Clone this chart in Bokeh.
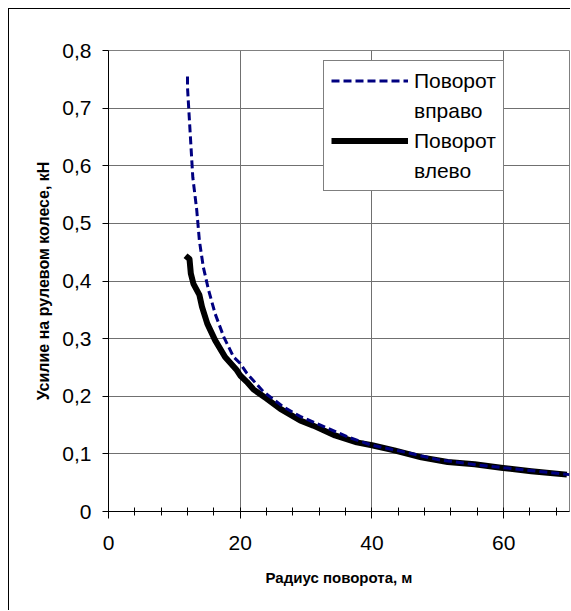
from bokeh.plotting import figure
from bokeh.models import Range1d, FixedTicker, CustomJSTickFormatter, Legend, LegendItem
from bokeh.embed import file_html
from bokeh.resources import INLINE

# ---- data ----
right_x = [12.0, 12.0, 12.2, 12.5, 12.8, 13.4, 13.8, 14.4, 15.2, 16.2, 17.5, 19.0, 20.0, 21.0,
           23.5, 26.5, 29.1, 33.4, 36.4, 40.0, 45.0, 50.0, 55.9, 60.0, 63.4, 70.0]
right_y = [0.755, 0.735, 0.696, 0.638, 0.58, 0.523, 0.47, 0.424, 0.384, 0.343, 0.303, 0.268,
           0.257, 0.24, 0.208, 0.182, 0.165, 0.144, 0.129, 0.115, 0.103, 0.09, 0.081, 0.076,
           0.072, 0.064]

left_x = [11.7, 12.3, 12.5, 12.9, 13.8, 14.2, 15.0, 16.2, 17.7, 19.5, 20.0, 21.0, 22.0,
          24.0, 26.1, 29.1, 31.1, 34.4, 37.7, 40.0, 43.4, 47.5, 51.5, 55.6, 59.6, 64.2, 69.6]
left_y = [0.444, 0.438, 0.413, 0.395, 0.376, 0.355, 0.326, 0.297, 0.268, 0.245, 0.236, 0.225,
          0.212, 0.196, 0.178, 0.158, 0.149, 0.132, 0.120, 0.115, 0.106, 0.094, 0.086, 0.082,
          0.076, 0.070, 0.064]

x_major = [0, 20, 40, 60]
x_minor = [4, 8, 12, 16, 24, 28, 32, 36, 44, 48, 52, 56, 64, 68]
y_major = [0, 0.1, 0.2, 0.3, 0.4, 0.5, 0.6, 0.7, 0.8]

label_right = ["Поворот", "вправо"]
label_left = ["Поворот", "влево"]
x_title = "Радиус поворота, м"
y_title = "Усилие на рулевом колесе, кН"

FONT = "Liberation Sans"

p = figure(width=562, height=602, output_backend="svg", toolbar_location=None,
           x_range=Range1d(0, 70), y_range=Range1d(0, 0.8),
           min_border_left=99, min_border_right=2, min_border_top=41, min_border_bottom=100)
p.styles = {"margin-left": "8px", "margin-top": "8px",
            "border-left": "1px solid black", "border-top": "1px solid black"}
p.background_fill_color = "white"
p.border_fill_color = "white"
p.outline_line_color = "#808080"
p.outline_line_width = 1

# axes
xa = p.xaxis[0]
xa.ticker = FixedTicker(ticks=x_major, minor_ticks=x_minor)
xa.axis_line_color = "black"
xa.major_tick_line_color = "black"
xa.minor_tick_line_color = "black"
xa.major_tick_in = 4
xa.major_tick_out = 7
xa.minor_tick_in = 4
xa.minor_tick_out = 4
xa.major_label_text_font = FONT
xa.major_label_text_font_size = "21px"
xa.major_label_text_color = "black"
xa.major_label_standoff = 17
xa.axis_label = x_title
xa.axis_label_text_font = FONT
xa.axis_label_text_font_size = "15px"
xa.axis_label_text_font_style = "bold"
xa.axis_label_text_color = "black"
xa.axis_label_standoff = 16

ya = p.yaxis[0]
ya.ticker = FixedTicker(ticks=y_major, minor_ticks=[])
ya.formatter = CustomJSTickFormatter(code='return tick == 0 ? "0" : tick.toFixed(1).replace(".", ",");')
ya.axis_line_color = "black"
ya.major_tick_line_color = "black"
ya.major_tick_in = 0
ya.major_tick_out = 6
ya.minor_tick_line_color = None
ya.major_label_text_font = FONT
ya.major_label_text_font_size = "21px"
ya.major_label_text_color = "black"
ya.major_label_standoff = 11
ya.axis_label = y_title
ya.axis_label_text_font = FONT
ya.axis_label_text_font_size = "16px"
ya.axis_label_text_font_style = "bold"
ya.axis_label_text_color = "black"
ya.axis_label_standoff = 7

p.xgrid.grid_line_color = "#707070"
p.ygrid.grid_line_color = "#707070"
p.xgrid.grid_line_width = 1
p.ygrid.grid_line_width = 1

# series
r_left = p.line(left_x, left_y, line_color="black", line_width=6, line_join="round")
r_right = p.line(right_x, right_y, line_color="#000080", line_width=3, line_dash="8 4")

blank = p.line(x=[], y=[], line_alpha=0)

legend = Legend(items=[
    LegendItem(label=label_right[0], renderers=[r_right]),
    LegendItem(label=label_right[1], renderers=[blank]),
    LegendItem(label=label_left[0], renderers=[r_left]),
    LegendItem(label=label_left[1], renderers=[blank]),
], location=(215, 320))
legend.label_text_font = FONT
legend.label_text_font_size = "21px"
legend.label_text_color = "black"
legend.glyph_width = 77
legend.glyph_height = 25
legend.label_height = 25
legend.label_width = 0
legend.label_standoff = 6
legend.spacing = 5
legend.padding = 7
legend.margin = 0
legend.border_line_color = "black"
legend.border_line_width = 1
legend.background_fill_color = "white"
legend.background_fill_alpha = 1
p.add_layout(legend, "center")

open("out.html", "w").write(file_html(p, INLINE))
